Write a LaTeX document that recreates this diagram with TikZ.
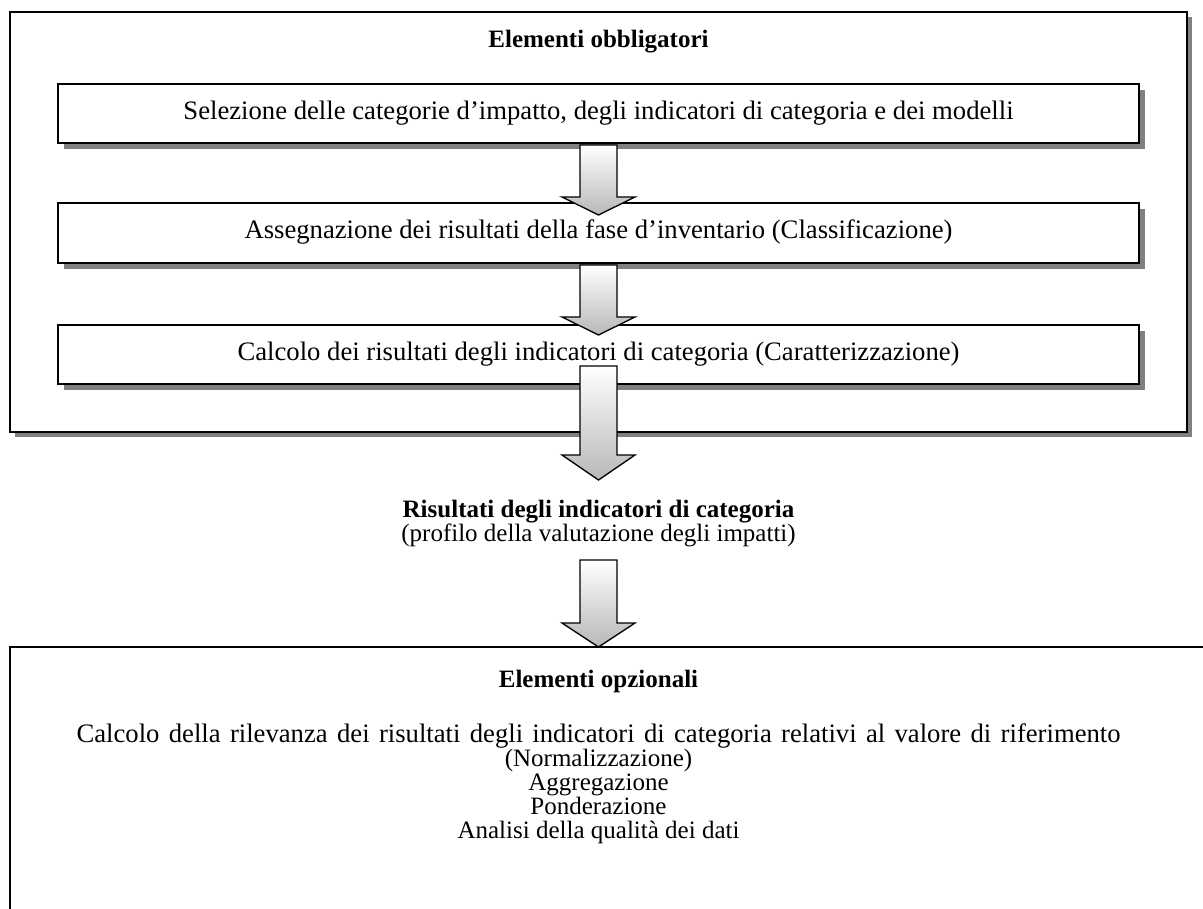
\documentclass[tikz,border=0pt]{standalone}
\usepackage{fontspec}
\setmainfont{Liberation Serif}
\usetikzlibrary{shadows,calc}
\tikzset{
  box/.style={draw=black, line width=1.2pt, fill=white, inner sep=0pt,
    drop shadow={shadow xshift=3.6pt, shadow yshift=-3.6pt, fill=black!50, opacity=1}},
  outerbox/.style={draw=black, line width=1.2pt, fill=white, inner sep=0pt,
    drop shadow={shadow xshift=3.2pt, shadow yshift=-3.2pt, fill=black!50, opacity=1}},
  txt/.style={font=\fontsize{15}{17}\selectfont, inner sep=0pt, align=center, text height=10pt, text depth=3pt},
  btxt/.style={txt, font=\fontsize{15}{17}\selectfont\bfseries},
  bigtxt/.style={txt, font=\fontsize{16}{18}\selectfont},
  bigarrow/.style={draw=black, line width=0.8pt, top color=white, bottom color=black!28, line join=miter}
}
\newcommand{\blockarrow}[4]{% x, top, base, tip
  \draw[bigarrow] (#1-18.5,#2) -- (#1+18.5,#2) -- (#1+18.5,#3) -- (#1+36.5,#3) -- (#1,#4) -- (#1-36.5,#3) -- (#1-18.5,#3) -- cycle;}
\begin{document}
\begin{tikzpicture}[x=0.6pt,y=-0.6pt]
\path[use as bounding box, clip] (0,0) rectangle (1203,908);
\fill[white] (0,0) rectangle (1203,908);
% outer box
\node[outerbox, minimum width=706.2pt, minimum height=252pt] (outer) at (598.5,222) {};
\node[btxt] (t1) at (598.5,42) {Elementi obbligatori};
\node[box, minimum width=648.6pt, minimum height=35.4pt] (b1) at (598.5,113.5) {};
\node[bigtxt] (b1t) at (b1) {Selezione delle categorie d’impatto, degli indicatori di categoria e dei modelli};
\node[box, minimum width=648.6pt, minimum height=36pt] (b2) at (598.5,233) {};
\node[bigtxt] (b2t) at (b2) {Assegnazione dei risultati della fase d’inventario (Classificazione)};
\node[box, minimum width=648.6pt, minimum height=35.4pt] (b3) at (598.5,354.5) {};
\node[bigtxt] (b3t) at (b3) {Calcolo dei risultati degli indicatori di categoria (Caratterizzazione)};
% middle text
\node[btxt] (r1) at (598.5,512) {Risultati degli indicatori di categoria};
\node[txt] (r2) at (598.5,536) {(profilo della valutazione degli impatti)};
% bottom box
\draw[line width=1.2pt, fill=white] (10,647) rectangle (1220,930);
\node[btxt] (o1) at (598.5,682) {Elementi opzionali};
\node[bigtxt] (o2) at (598.5,737) {\spaceskip=5.6pt plus 1pt\relax Calcolo della rilevanza dei risultati degli indicatori di categoria relativi al valore di riferimento};
\node[txt] (o3) at (598.5,761) {(Normalizzazione)};
\node[txt] (o4) at (598.5,785) {Aggregazione};
\node[txt] (o5) at (598.5,809) {Ponderazione};
\node[txt] (o6) at (598.5,833) {Analisi della qualità dei dati};
% arrows
\blockarrow{598.5}{145}{197}{215}
\blockarrow{598.5}{265}{317}{335}
\blockarrow{598.5}{366}{455}{480}
\blockarrow{598.5}{560}{623}{647}
\end{tikzpicture}
\end{document}
